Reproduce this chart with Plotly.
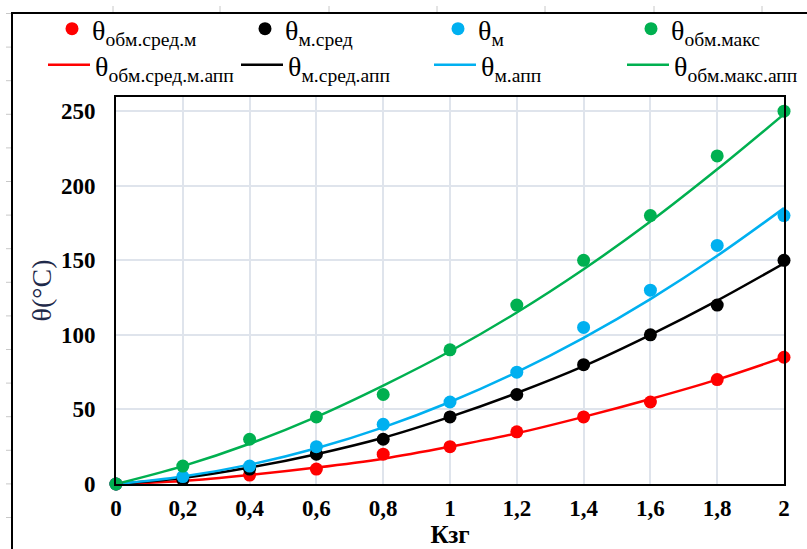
import plotly.graph_objects as go

x_vals = [0, 0.2, 0.4, 0.6, 0.8, 1.0, 1.2, 1.4, 1.6, 1.8, 2.0]

# measured points
obm_sred_m = [0, 3, 6, 10, 20, 25, 35, 45, 55, 70, 85]
m_sred = [0, 3, 10, 20, 30, 45, 60, 80, 100, 120, 150]
m = [0, 5, 12, 25, 40, 55, 75, 105, 130, 160, 180]
obm_maks = [0, 12, 30, 45, 60, 90, 120, 150, 180, 220, 250]

# approximation curves
obm_sred_m_app = [0, 2, 6, 11, 17, 25, 34, 45, 57, 70, 85]
m_sred_app = [0, 4, 11, 20, 31, 45, 61, 79, 100, 123, 148]
m_app = [0, 5, 13, 24, 38, 55, 75, 98, 124, 153, 185]
obm_maks_app = [0, 12, 27, 45, 66, 89, 115, 144, 176, 211, 248]

names_pts = ["θ<sub>обм.сред.м</sub>", "θ<sub>м.сред</sub>", "θ<sub>м</sub>", "θ<sub>обм.макс</sub>"]
names_app = ["θ<sub>обм.сред.м.апп</sub>", "θ<sub>м.сред.апп</sub>", "θ<sub>м.апп</sub>", "θ<sub>обм.макс.апп</sub>"]
colors = ["#ff0000", "#000000", "#00b0f0", "#00b050"]

pts = [obm_sred_m, m_sred, m, obm_maks]
apps = [obm_sred_m_app, m_sred_app, m_app, obm_maks_app]

fig = go.Figure()
for i, (ys, nm, c) in enumerate(zip(apps, names_app, colors)):
    fig.add_trace(go.Scatter(x=x_vals, y=ys, mode="lines", name=nm,
                             line=dict(color=c, width=2.5, shape="spline"),
                             legend="legend2", legendrank=5 + i))
for i, (ys, nm, c) in enumerate(zip(pts, names_pts, colors)):
    fig.add_trace(go.Scatter(x=x_vals, y=ys, mode="markers", name=nm,
                             marker=dict(color=c, size=13),
                             legend="legend", legendrank=1 + i, cliponaxis=False))

W, H = 807, 549
L, R, T, B = 116, 23, 97, 65
pw, ph = W - L - R, H - T - B

def px(xp):
    return (xp - L) / pw

def py(yp):
    return (H - B - yp) / ph

shapes = []
# outer frame (partially visible)
shapes.append(dict(type="path", xref="paper", yref="paper",
                   path=f"M {px(12)} {py(552)} L {px(12)} {py(13)} L {px(810)} {py(13)}",
                   line=dict(color="#000000", width=2)))
# faint sheet grid marks outside the frame
for k in range(17):
    yy = 13.5 + 33.6 * k
    if yy > 549:
        break
    shapes.append(dict(type="line", xref="paper", yref="paper",
                       x0=px(6), x1=px(11), y0=py(yy), y1=py(yy),
                       line=dict(color="#c8c8c8", width=1)))
for xx in [113, 220, 329, 437, 545, 654, 762]:
    shapes.append(dict(type="line", xref="paper", yref="paper",
                       x0=px(xx), x1=px(xx), y0=py(6), y1=py(12),
                       line=dict(color="#c8c8c8", width=1)))

leg_font = dict(family="Liberation Serif", size=28, color="#000000")

fig.update_layout(
    width=W, height=H,
    margin=dict(l=L, r=R, t=T, b=B, autoexpand=False),
    paper_bgcolor="white", plot_bgcolor="white",
    separators=", ",
    font=dict(family="Liberation Serif", color="#000000"),
    shapes=shapes,
    showlegend=True,
    legend=dict(orientation="h", xref="paper", yref="paper",
                x=px(52), y=py(4), xanchor="left", yanchor="top",
                entrywidth=148, entrywidthmode="pixels",
                font=leg_font, bgcolor="rgba(0,0,0,0)", itemwidth=30,
                tracegroupgap=0),
    legend2=dict(orientation="h", xref="paper", yref="paper",
                 x=px(43), y=py(40), xanchor="left", yanchor="top",
                 entrywidth=136, entrywidthmode="pixels",
                 font=leg_font, bgcolor="rgba(0,0,0,0)", itemwidth=42,
                 tracegroupgap=0),
    xaxis=dict(range=[0, 2], dtick=0.2, tick0=0,
               showgrid=True, gridcolor="#dfe4ec", gridwidth=1.5,
               showline=True, linecolor="#000000", linewidth=2, mirror=True,
               zeroline=False, ticks="outside", ticklen=2, tickcolor="rgba(0,0,0,0)",
               tickfont=dict(family="Liberation Serif", size=23, color="#000000", weight="bold"),
               title=dict(text="<b>Кзг</b>", font=dict(family="Liberation Serif", size=25, color="#000000"),
                          standoff=4)),
    yaxis=dict(range=[0, 259.5], dtick=50, tick0=0,
               showgrid=True, gridcolor="#dfe4ec", gridwidth=1.5,
               showline=True, linecolor="#000000", linewidth=2, mirror=True,
               zeroline=False, ticks="outside", ticklen=14, tickcolor="rgba(0,0,0,0)",
               tickfont=dict(family="Liberation Serif", size=23, color="#000000", weight="bold"),
               title=dict(text="θ(°C)", font=dict(family="Liberation Serif", size=28, color="#1f2a4a"),
                          standoff=1)),
)

fig.write_html("out.html")
